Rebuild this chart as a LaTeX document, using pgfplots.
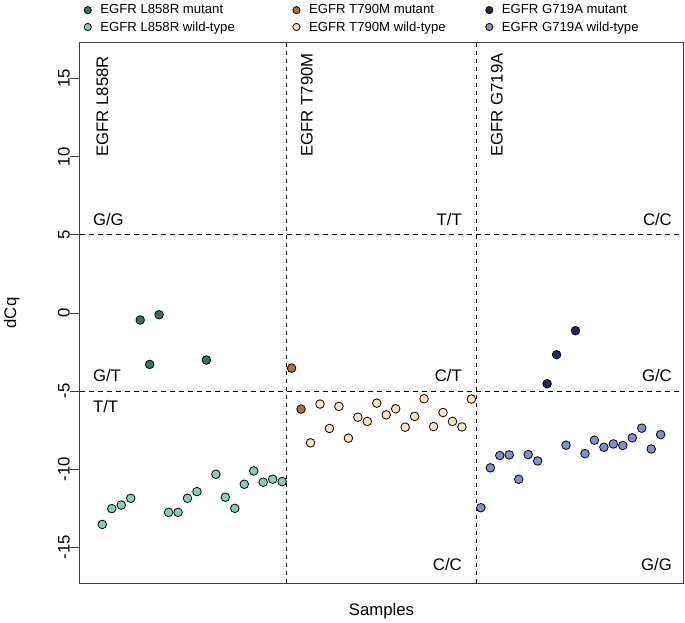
\documentclass[border=0pt]{standalone}
\usepackage{pgfplots}
\pgfplotsset{compat=1.18}
\usepackage{fontspec}
\setmainfont{Liberation Sans}
\definecolor{lmut}{RGB}{45,122,90}
\definecolor{lwt}{RGB}{128,210,178}
\definecolor{tmut}{RGB}{184,112,48}
\definecolor{twt}{RGB}{252,226,192}
\definecolor{gmut}{RGB}{30,40,110}
\definecolor{gwt}{RGB}{128,142,220}
\pgfplotstableread{
x y
5 -0.45
6 -3.29
7 -0.11
12 -3.01
}\lmutdata
\pgfplotstableread{
x y
1 -13.53
2 -12.52
3 -12.29
4 -11.86
8 -12.76
9 -12.76
10 -11.86
11 -11.43
13 -10.32
14 -11.79
15 -12.50
16 -10.96
17 -10.11
18 -10.83
19 -10.64
20 -10.79
}\lwtdata
\pgfplotstableread{
x y
21 -3.53
22 -6.15
}\tmutdata
\pgfplotstableread{
x y
23 -8.31
24 -5.83
25 -7.39
26 -5.98
27 -8.01
28 -6.67
29 -6.94
30 -5.77
31 -6.52
32 -6.13
33 -7.31
34 -6.62
35 -5.49
36 -7.27
37 -6.37
38 -6.94
39 -7.29
40 -5.51
}\twtdata
\pgfplotstableread{
x y
48 -4.53
49 -2.67
51 -1.13
}\gmutdata
\pgfplotstableread{
x y
41 -12.46
42 -9.91
43 -9.12
44 -9.08
45 -10.64
46 -9.06
47 -9.47
50 -8.46
52 -9.00
53 -8.14
54 -8.59
55 -8.38
56 -8.48
57 -7.99
58 -7.37
59 -8.70
60 -7.78
}\gwtdata
\begin{document}
\begin{tikzpicture}
\begin{axis}[
  name=ax,
  width=603bp, height=540bp, scale only axis,
  xmin=-1.36, xmax=62.36, ymin=-17.28, ymax=17.28,
  clip=false,
  xtick=\empty,
  ytick={-15,-10,-5,0,5,10,15},
  yticklabels={-15,-10,-5,0,5,10,15},
  ytick pos=left,
  tick align=outside,
  major tick length=10bp,
  tick style={line width=0.9bp, black!75},
  axis line style={line width=1bp, black!75},
  /pgf/number format/assume math mode=true,
  yticklabel style={rotate=90, anchor=south, inner sep=0pt, font=\fontsize{16.8}{19}\selectfont},
  xlabel={Samples},
  ylabel={dCq},
  xlabel style={at={(axis description cs:0.5,-0.0593)}, anchor=base, font=\fontsize{16.8}{19}\selectfont},
  ylabel style={at={(axis description cs:-0.106,0.5)}, rotate=0, anchor=base, font=\fontsize{16.8}{19}\selectfont},
  every axis plot/.append style={mark size=4.3bp},
  legend columns=3,
  legend cell align=left,
  legend image code/.code={\draw[#1, only marks, mark size=3.6bp] plot coordinates {(0bp,0bp)};},
  legend style={at={(axis description cs:0.0066,1.0711)}, anchor=north west,
    draw=none, fill=none, inner sep=0pt, row sep=6bp,
    font=\fontsize{13.2}{15}\selectfont,
    nodes={inner sep=0pt},
    /tikz/every odd column/.append style={column sep=9bp},
    /tikz/column 2/.append style={column sep=58bp},
    /tikz/column 4/.append style={column sep=40bp}},
]
\addplot[forget plot, black, line width=0.9bp, dash pattern=on 5bp off 4bp] coordinates {(-1.36,5) (62.36,5)};
\addplot[forget plot, black, line width=0.9bp, dash pattern=on 5bp off 4bp] coordinates {(-1.36,-5) (62.36,-5)};
\addplot[forget plot, black, line width=0.8bp, dash pattern=on 4bp off 4bp] coordinates {(20.5,-17.28) (20.5,17.28)};
\addplot[forget plot, black, line width=0.8bp, dash pattern=on 4bp off 4bp] coordinates {(40.5,-17.28) (40.5,17.28)};
\addplot[only marks, mark=*, mark options={draw=black, fill=lmut, line width=0.8bp}] table {\lmutdata};
\addlegendentry{EGFR L858R mutant}
\addplot[only marks, mark=*, mark options={draw=black, fill=tmut, line width=0.8bp}] table {\tmutdata};
\addlegendentry{EGFR T790M mutant}
\addplot[only marks, mark=*, mark options={draw=black, fill=gmut, line width=0.8bp}] table {\gmutdata};
\addlegendentry{EGFR G719A mutant}
\addplot[only marks, mark=*, mark options={draw=black, fill=lwt, line width=0.8bp}] table {\lwtdata};
\addlegendentry{EGFR L858R wild-type}
\addplot[only marks, mark=*, mark options={draw=black, fill=twt, line width=0.8bp}] table {\twtdata};
\addlegendentry{EGFR T790M wild-type}
\addplot[only marks, mark=*, mark options={draw=black, fill=gwt, line width=0.8bp}] table {\gwtdata};
\addlegendentry{EGFR G719A wild-type}
\begin{scope}[every node/.style={inner sep=0pt, font=\fontsize{16.8}{19}\selectfont}]
\node[rotate=90, anchor=west] at (axis cs:1,10) {EGFR L858R};
\node[rotate=90, anchor=west] at (axis cs:22.6,10) {EGFR T790M};
\node[rotate=90, anchor=west] at (axis cs:42.7,10) {EGFR G719A};
\node[anchor=west] at (axis cs:0,6) {G/G};
\node[anchor=east] at (axis cs:39.0,6) {T/T};
\node[anchor=east] at (axis cs:61.2,6) {C/C};
\node[anchor=west] at (axis cs:0,-4) {G/T};
\node[anchor=west] at (axis cs:0,-6) {T/T};
\node[anchor=east] at (axis cs:39.0,-4) {C/T};
\node[anchor=east] at (axis cs:61.2,-4) {G/C};
\node[anchor=east] at (axis cs:39.0,-16.1) {C/C};
\node[anchor=east] at (axis cs:61.2,-16.1) {G/G};
\end{scope}
\end{axis}
\pgfresetboundingbox
\path (ax.south west) ++(-80bp,-40bp) rectangle ++(685bp,623bp);
\end{tikzpicture}
\end{document}
